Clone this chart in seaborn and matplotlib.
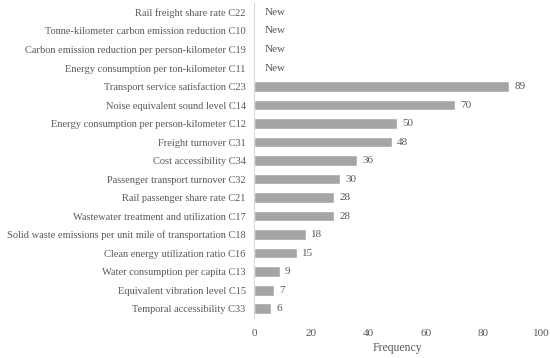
import matplotlib.pyplot as plt
import numpy as np
import pandas as pd
import seaborn as sns

indicators = [
    "Rail freight share rate C22",
    "Tonne-kilometer carbon emission reduction C10",
    "Carbon emission reduction per person-kilometer C19",
    "Energy consumption per ton-kilometer C11",
    "Transport service satisfaction C23",
    "Noise equivalent sound level C14",
    "Energy consumption per person-kilometer C12",
    "Freight turnover C31",
    "Cost accessibility C34",
    "Passenger transport turnover C32",
    "Rail passenger share rate C21",
    "Wastewater treatment and utilization C17",
    "Solid waste emissions per unit mile of transportation C18",
    "Clean energy utilization ratio C16",
    "Water consumption per capita C13",
    "Equivalent vibration level C15",
    "Temporal accessibility C33",
]
frequency = [np.nan, np.nan, np.nan, np.nan, 89, 70, 50, 48, 36, 30, 28, 28, 18, 15, 9, 7, 6]
x_ticks = [0, 20, 40, 60, 80, 100]

TEXT = "#595959"

sns.set_theme(style="white")
plt.rcParams["font.family"] = ["Liberation Serif", "DejaVu Serif"]

df = pd.DataFrame({"Indicator": indicators, "Frequency": frequency})

fig = plt.figure(figsize=(5.5, 3.58), dpi=100)
ax = fig.add_axes([0.4618, 0.112, 0.5218, 0.879])
sns.barplot(data=df, x="Frequency", y="Indicator", orient="h", color="#A5A5A5",
            saturation=1, width=0.58, ax=ax)

for i, v in enumerate(frequency):
    if np.isnan(v):
        ax.annotate("New", (0, i), xytext=(7.5, 0), textcoords="offset points",
                    va="center", ha="left", fontsize=8, color=TEXT)
    else:
        ax.annotate(f"{int(v)}", (v, i), xytext=(3.6, 0), textcoords="offset points",
                    va="center", ha="left", fontsize=8, color=TEXT)

ax.set_xlim(0, 100)
ax.set_xticks(x_ticks)
ax.set_ylim(len(indicators) - 0.5, -0.5)
ax.set_xlabel("Frequency", fontsize=8.5, color=TEXT, labelpad=3)
ax.set_ylabel("")
ax.tick_params(axis="y", labelsize=7.5, colors=TEXT, length=0, pad=6)
ax.tick_params(axis="x", labelsize=8, colors=TEXT, length=0, pad=8)
for s in ["top", "right", "bottom"]:
    ax.spines[s].set_visible(False)
ax.spines["left"].set_color("#D9D9D9")
ax.spines["left"].set_linewidth(0.8)

fig.savefig("out.png", dpi=100)
